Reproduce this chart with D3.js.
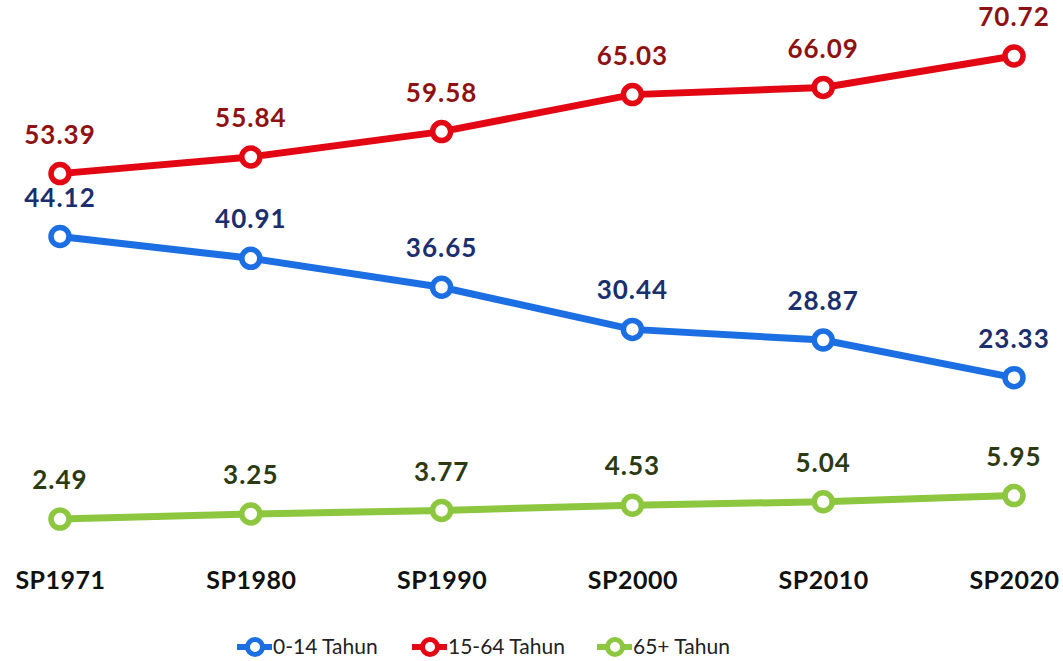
<!DOCTYPE html>
<html>
<head>
<meta charset="utf-8">
<script src="https://cdn.jsdelivr.net/npm/d3@7"></script>
<style>
  html, body { margin: 0; padding: 0; background: #fff; }
  svg { display: block; }
</style>
</head>
<body>
<svg id="chart"></svg>
<script>
// Data
const categories = ['SP1971', 'SP1980', 'SP1990', 'SP2000', 'SP2010', 'SP2020'];
const age0to14 = [44.12, 40.91, 36.65, 30.44, 28.87, 23.33];
const age15to64 = [53.39, 55.84, 59.58, 65.03, 66.09, 70.72];
const age65plus = [2.49, 3.25, 3.77, 4.53, 5.04, 5.95];
const seriesNames = ['0-14 Tahun', '15-64 Tahun', '65+ Tahun'];

const width = 1063;
const height = 661;

const series = [
  { name: seriesNames[0], values: age0to14, line: '#1c6fe3', label: '#1b2f6e' },
  { name: seriesNames[1], values: age15to64, line: '#e30613', label: '#8e1212' },
  { name: seriesNames[2], values: age65plus, line: '#8dc63f', label: '#2c3a12' }
];

const svg = d3.select('#chart')
  .attr('width', width)
  .attr('height', height);

// Scales
const x = d3.scalePoint()
  .domain(categories)
  .range([60, 1014]);

const y = d3.scaleLinear()
  .domain([0, 70.72])
  .range([536, 56]);

// Category axis (labels only)
svg.append('g')
  .attr('transform', 'translate(0,580)')
  .call(d3.axisBottom(x).tickSize(0).tickPadding(0))
  .call(g => g.select('.domain').remove())
  .selectAll('text')
  .attr('dy', '0.35em')
  .style('font-family', 'Lato, sans-serif')
  .style('font-weight', 'bold')
  .style('font-size', '25px')
  .style('letter-spacing', '0.5px')
  .style('fill', '#111');

const line = d3.line()
  .x((d, i) => x(categories[i]))
  .y(d => y(d));

// Lines, markers, labels
series.forEach(s => {
  const g = svg.append('g');

  g.append('path')
    .datum(s.values)
    .attr('fill', 'none')
    .attr('stroke', s.line)
    .attr('stroke-width', 7)
    .attr('d', line);

  g.selectAll('circle')
    .data(s.values)
    .enter()
    .append('circle')
    .attr('cx', (d, i) => x(categories[i]))
    .attr('cy', d => y(d))
    .attr('r', 9)
    .attr('fill', '#fff')
    .attr('stroke', s.line)
    .attr('stroke-width', 5.5);

  g.selectAll('text')
    .data(s.values)
    .enter()
    .append('text')
    .attr('x', (d, i) => x(categories[i]))
    .attr('y', d => y(d) - 39)
    .attr('dy', '0.35em')
    .attr('text-anchor', 'middle')
    .style('font-family', 'Lato, sans-serif')
    .style('font-weight', 'bold')
    .style('font-size', '26px')
    .style('letter-spacing', '1px')
    .style('fill', s.label)
    .text(d => d.toFixed(2));
});

// Legend
const legendX = [237, 412, 597];
const legend = svg.selectAll('.legend')
  .data(series)
  .enter()
  .append('g')
  .attr('class', 'legend')
  .attr('transform', (d, i) => `translate(${legendX[i]},647)`);

legend.append('line')
  .attr('x1', 0)
  .attr('x2', 35)
  .attr('stroke', d => d.line)
  .attr('stroke-width', 6);

legend.append('circle')
  .attr('cx', 18)
  .attr('r', 7.5)
  .attr('fill', '#fff')
  .attr('stroke', d => d.line)
  .attr('stroke-width', 5);

legend.append('text')
  .attr('x', 36)
  .attr('dy', '0.35em')
  .style('font-family', 'Lato, sans-serif')
  .style('font-size', '21px')
  .style('fill', '#222')
  .text(d => d.name);
</script>
</body>
</html>
